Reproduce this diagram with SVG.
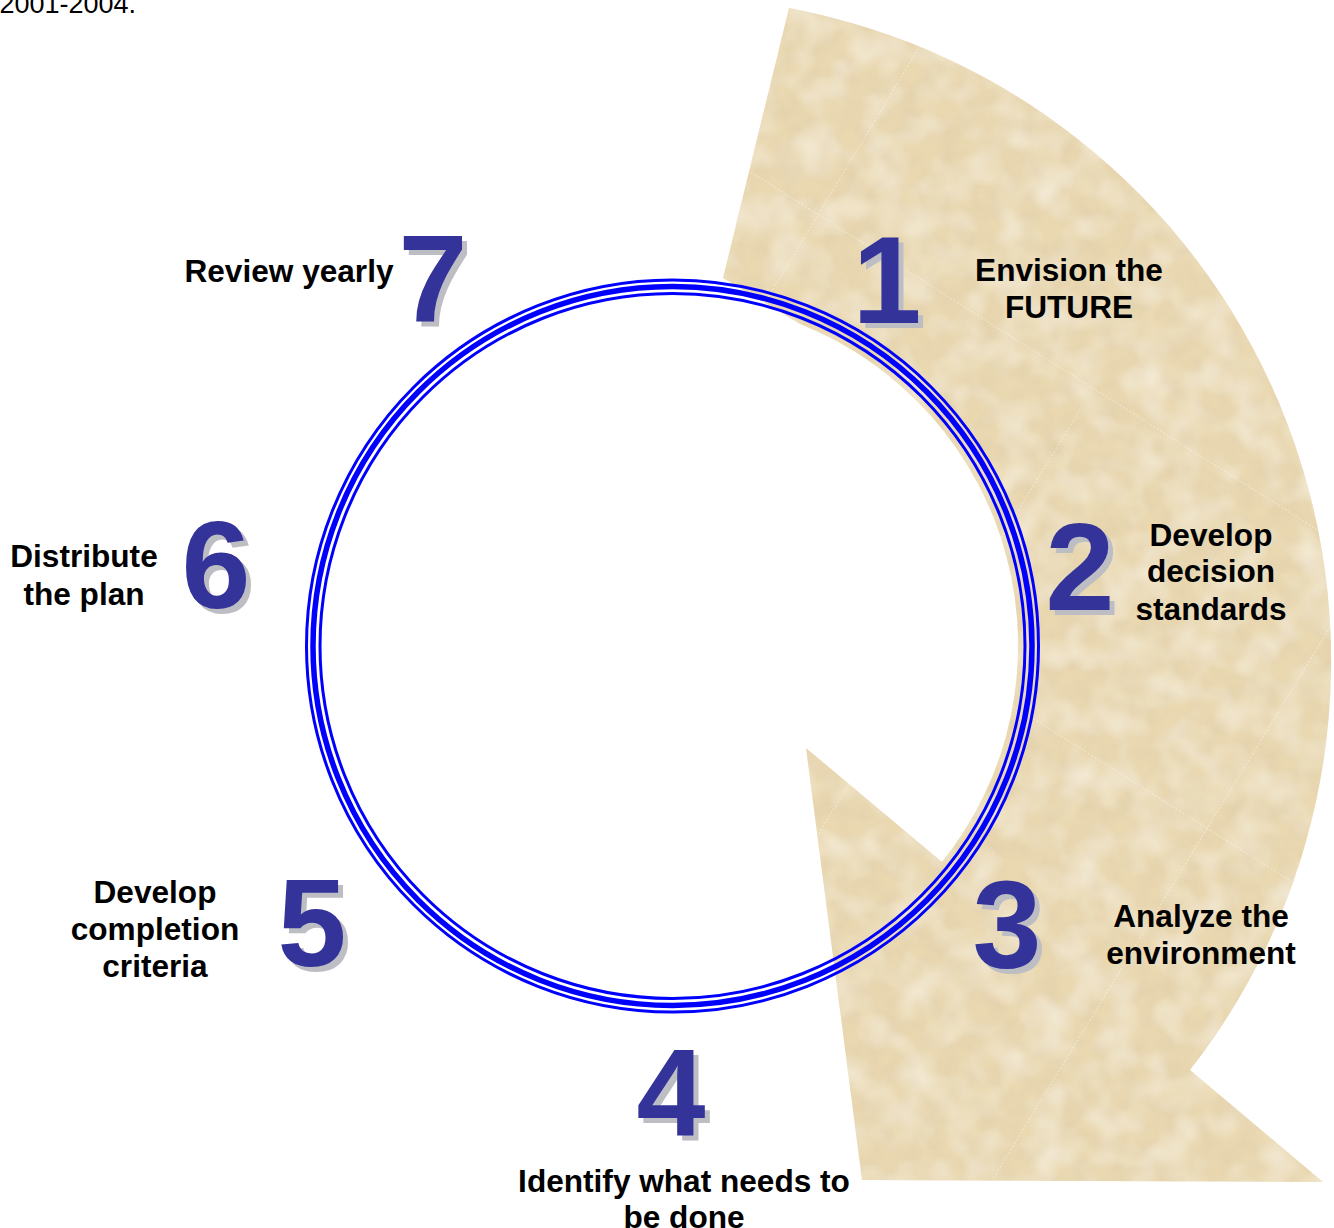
<svg xmlns="http://www.w3.org/2000/svg" width="1334" height="1228" viewBox="0 0 1334 1228">
<defs>
<style>
.lbl{font-family:"Liberation Sans",Arial,sans-serif;font-weight:bold;font-size:31.6px;fill:#000;text-anchor:middle}
.num{font-family:"Liberation Sans",Arial,sans-serif;font-weight:bold;font-size:124px;text-anchor:middle}
.fg{fill:#333399}
.sh{fill:#BDBDC4}
.ring{fill:none;stroke:#0000FF}
.seam{stroke:#FFFFFF;stroke-width:1;stroke-dasharray:2 2;opacity:0.5;fill:none}
</style>
<filter id="tex" x="0" y="0" width="1" height="1" filterUnits="objectBoundingBox">
<feTurbulence type="fractalNoise" baseFrequency="0.05" numOctaves="3" seed="7" result="n"/>
<feColorMatrix in="n" type="matrix" values="0 0 0 0 0.72  0 0 0 0 0.60  0 0 0 0 0.40  1.0 0 0 0 -0.38" result="c"/>
<feComposite in="c" in2="SourceGraphic" operator="in" result="m"/>
<feTurbulence type="fractalNoise" baseFrequency="0.03" numOctaves="2" seed="21" result="n2"/>
<feColorMatrix in="n2" type="matrix" values="0 0 0 0 1  0 0 0 0 0.98  0 0 0 0 0.92  0.9 0 0 0 -0.35" result="c2"/>
<feComposite in="c2" in2="SourceGraphic" operator="in" result="m2"/>
<feMerge><feMergeNode in="SourceGraphic"/><feMergeNode in="m"/><feMergeNode in="m2"/></feMerge>
</filter>
<path id="bandShape" d="M789,8 A664,664 0 0 1 1190,1070 L1323,1182 L862,1180 L806,748 L942,862 A346,346 0 0 0 800,324 Q760,300 723,278 Z"/>
<clipPath id="bandClip"><use href="#bandShape"/></clipPath>
</defs>

<g id="arrow-band">
<use href="#bandShape" fill="#E9D8B0" filter="url(#tex)"/>
<g clip-path="url(#bandClip)">
<line class="seam" x1="560" y1="420" x2="1400" y2="950"/>
<line class="seam" x1="700" y1="140" x2="1400" y2="582"/>
<line class="seam" x1="1080" y1="410" x2="790" y2="880"/>
<line class="seam" x1="960" y1="-20" x2="700" y2="410"/>
<line class="seam" x1="1420" y1="480" x2="980" y2="1200"/>
</g>
</g>

<g id="connectors">
<circle class="ring" cx="672.5" cy="646" r="366" stroke-width="3"/>
<circle class="ring" cx="672.5" cy="646" r="359.5" stroke-width="5.5"/>
<circle class="ring" cx="672.5" cy="646" r="352.5" stroke-width="3"/>
</g>

<text x="136" y="13" font-family="'Liberation Sans',Arial,sans-serif" font-size="27" text-anchor="end" fill="#000">2001-2004.</text>

<g id="step1">
<text class="num sh" x="892" y="328">1</text>
<text class="num fg" x="887" y="323">1</text>
<text class="lbl" x="1069" y="281">Envision the</text>
<text class="lbl" x="1069" y="318">FUTURE</text>
</g>

<g id="step2">
<text class="num sh" x="1085" y="615">2</text>
<text class="num fg" x="1080" y="610">2</text>
<text class="lbl" x="1211" y="546">Develop</text>
<text class="lbl" x="1211" y="582">decision</text>
<text class="lbl" x="1211" y="620">standards</text>
</g>

<g id="step3">
<text class="num sh" x="1012" y="973">3</text>
<text class="num fg" x="1007" y="968">3</text>
<text class="lbl" x="1201" y="927">Analyze the</text>
<text class="lbl" x="1201" y="964">environment</text>
</g>

<g id="step4">
<text class="num sh" x="676" y="1140">4</text>
<text class="num fg" x="671" y="1135">4</text>
<text class="lbl" x="684" y="1192">Identify what needs to</text>
<text class="lbl" x="684" y="1228">be done</text>
</g>

<g id="step5">
<text class="num sh" x="317" y="971">5</text>
<text class="num fg" x="312" y="966">5</text>
<text class="lbl" x="155" y="903">Develop</text>
<text class="lbl" x="155" y="940">completion</text>
<text class="lbl" x="155" y="977">criteria</text>
</g>

<g id="step6">
<text class="num sh" x="221" y="613">6</text>
<text class="num fg" x="216" y="608">6</text>
<text class="lbl" x="84" y="567">Distribute</text>
<text class="lbl" x="84" y="605">the plan</text>
</g>

<g id="step7">
<text class="num sh" x="438" y="327">7</text>
<text class="num fg" x="433" y="322">7</text>
<text class="lbl" x="289" y="282">Review yearly</text>
</g>
</svg>
